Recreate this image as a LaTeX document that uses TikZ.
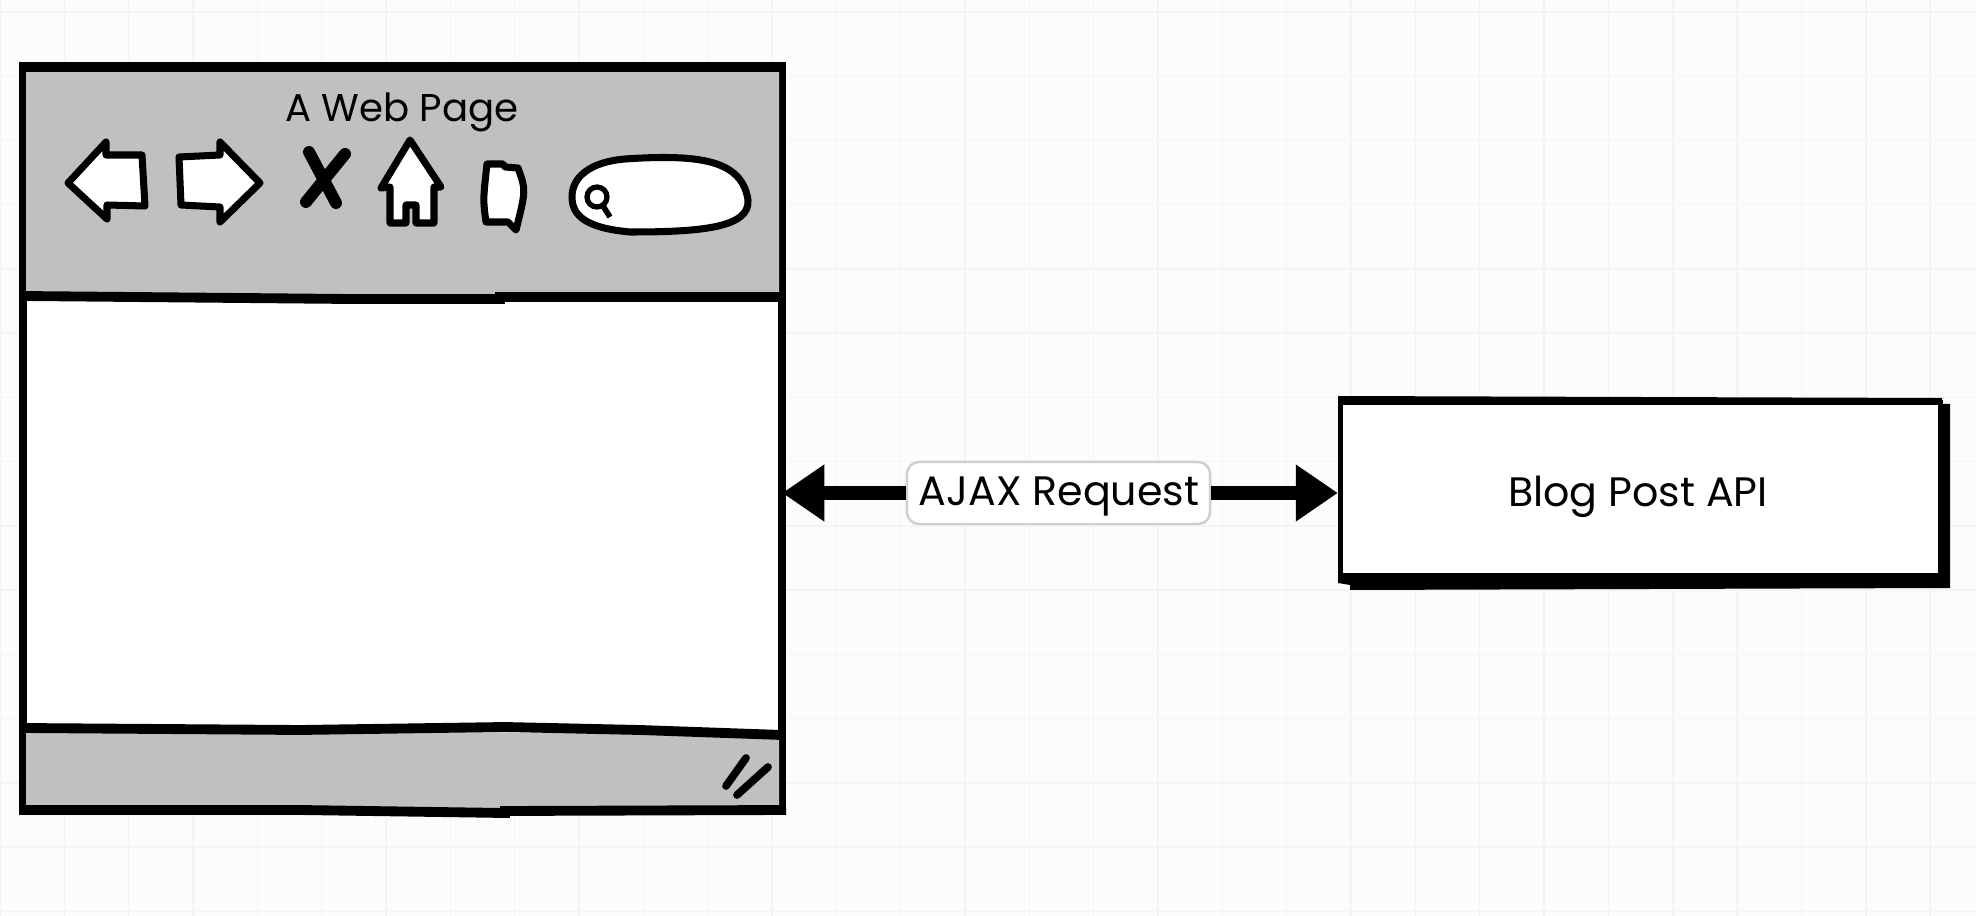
\documentclass[tikz,border=0pt]{standalone}
\usepackage{fontspec}
\setmainfont{Poppins}
\usetikzlibrary{arrows.meta}
\definecolor{paper}{HTML}{FCFCFD}
\definecolor{gridline}{HTML}{F4F4F5}
\definecolor{bargray}{HTML}{C0C0C0}
\definecolor{labelline}{HTML}{CFCFCF}
\tikzset{
  icon/.style={draw=black,fill=white,line width=2pt,line join=round},
  sketchline/.style={draw=black,line width=2.8pt},
  callarrow/.style={line width=3.7pt,-{Triangle[length=0.42cm,width=0.54cm]}},
  sketchtext/.style={font=\fontsize{11.7pt}{14pt}\selectfont},
  titletext/.style={font=\fontsize{11pt}{13pt}\selectfont}
}
\begin{document}
\begin{tikzpicture}[x=0.01cm,y=-0.01cm]
\useasboundingbox (0,0) rectangle (1976,916);
\fill[paper] (0,0) rectangle (1976,916);
\draw[gridline,line width=0.4pt,xstep=0.643cm,ystep=0.642cm,yshift=-0.12cm] (0,-12) grid (1976,904);

\node[draw=black,fill=white,line width=2.2pt,outer sep=0pt,minimum width=7.59cm,minimum height=7.43cm] (page) at (402.5,438.5) {};
\fill[bargray] (26,67) -- (779,67) -- (779,297) -- (26,296) -- cycle;
\fill[bargray] (26,728) -- (779,735) -- (779,810) -- (26,810) -- cycle;
\draw[sketchline] (19,67) -- (786,67);
\draw[sketchline] (23,296) -- (350,299) -- (500,299) -- (500,297) -- (782,297);
\draw[sketchline] (23,728) -- (300,730) -- (505,727) -- (640,730) -- (782,735);
\draw[sketchline] (19,810) -- (300,810) -- (505,813) -- (505,811) -- (786,810);

\node[titletext] (title) at (402,112) {A Web Page};

\draw[icon] (68,183) -- (106,142) -- (106,155) -- (142,155) -- (145,206) -- (107,205) -- (107,219) -- cycle;
\draw[icon] (179,157) -- (220,155) -- (220,142) -- (260,183) -- (220,222) -- (220,207) -- (181,205) -- cycle;
\draw[line width=3.4pt,line cap=round] (309,152) -- (336,203);
\draw[line width=3.4pt,line cap=round] (345,154) -- (306,202);
\draw[icon] (410,140) -- (441,187) -- (434,187) -- (434,223) -- (416,223) -- (416,205) -- (406,205) -- (406,223) -- (390,223) -- (390,187) -- (381,188) -- cycle;
\draw[icon] (487,164) -- (503,164) -- (505,167) -- (518,168) .. controls (526,190) .. (516,230) -- (508,222) -- (486,222) .. controls (483,200) .. (487,164) -- cycle;
\draw[icon] (625,159) .. controls (700,154) and (742,160) .. (748,200) .. controls (750,228) and (700,232) .. (630,232) .. controls (585,228) and (572,215) .. (572,197) .. controls (572,177) and (590,162) .. (625,159) -- cycle;
\draw[line width=1.5pt] (597,197) circle (10);
\draw[line width=1.6pt] (603,206) -- (610,217);

\draw[line width=2.2pt,line cap=round] (746,758) -- (726,786);
\draw[line width=2.2pt,line cap=round] (768,767) -- (737,795);

\fill[black] (1338,396) -- (1942,398) -- (1942,404) -- (1950,404) -- (1950,588) -- (1350,590) -- (1350,585) -- (1338,583) -- cycle;
\node[draw=black,fill=white,line width=1.4pt,minimum width=6cm,minimum height=1.73cm] (api) at (1640.5,489) {};
\node[sketchtext] (apilabel) at (1638,497) {Blog Post API};

\node[draw=labelline,fill=white,rounded corners=0.12cm,line width=0.7pt,minimum width=3.03cm,minimum height=0.62cm] (ajax) at (1058.5,493) {};
\node[sketchtext] (ajaxlabel) at (1059,497) {AJAX Request};
\draw[callarrow] (ajax.west) -- (ajax.west -| page.east);
\draw[callarrow] (ajax.east) -- (ajax.east -| api.west);
\end{tikzpicture}
\end{document}
